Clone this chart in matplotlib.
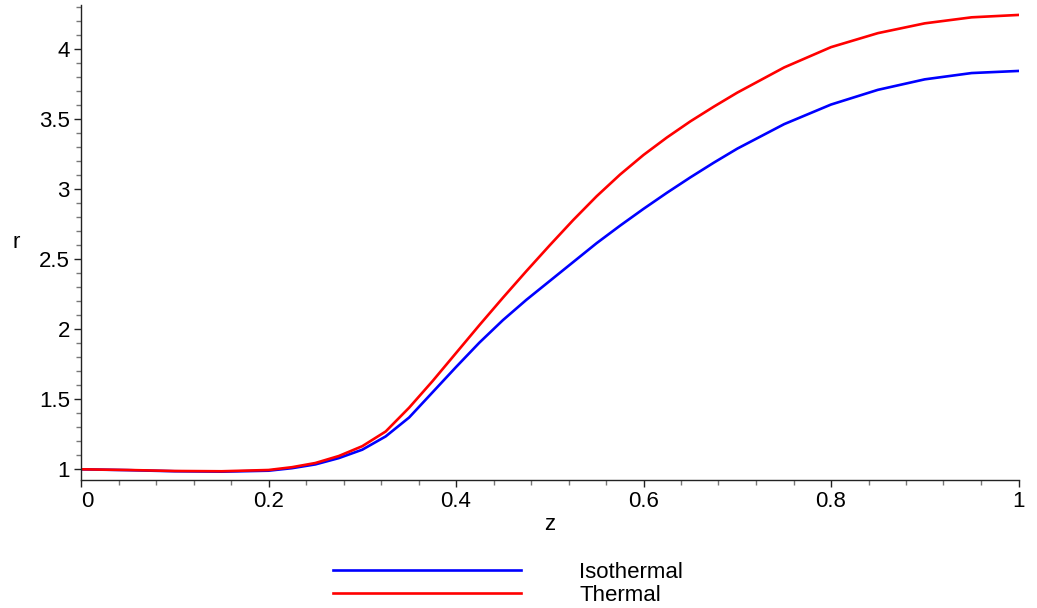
import numpy as np
import matplotlib.pyplot as plt
from matplotlib.ticker import MultipleLocator

plt.rcParams['font.family'] = ['Liberation Sans', 'DejaVu Sans']

# values
z = [0.0, 0.05, 0.1, 0.15, 0.2, 0.225, 0.25, 0.275, 0.3, 0.325, 0.35, 0.375,
     0.4, 0.425, 0.45, 0.475, 0.5, 0.525, 0.55, 0.575, 0.6, 0.625, 0.65,
     0.675, 0.7, 0.75, 0.8, 0.85, 0.9, 0.95, 1.0]
r_isothermal = [1.0, 0.994, 0.986, 0.983, 0.99, 1.008, 1.035, 1.08, 1.14, 1.235,
                1.37, 1.55, 1.73, 1.905, 2.065, 2.21, 2.345, 2.48, 2.615, 2.74,
                2.86, 2.975, 3.085, 3.19, 3.29, 3.465, 3.605, 3.71, 3.785, 3.83,
                3.845]
r_thermal = [1.0, 0.995, 0.988, 0.986, 0.995, 1.015, 1.045, 1.095, 1.165, 1.27,
             1.44, 1.63, 1.83, 2.03, 2.225, 2.415, 2.60, 2.78, 2.95, 3.105,
             3.245, 3.37, 3.485, 3.59, 3.69, 3.87, 4.015, 4.115, 4.185, 4.228,
             4.245]
labels = ["Isothermal", "Thermal"]
xticks = [0, 0.2, 0.4, 0.6, 0.8, 1]
yticks = [1, 1.5, 2, 2.5, 3, 3.5, 4]

fig = plt.figure(figsize=(10.37, 6.08), dpi=100)
ax = fig.add_axes([81 / 1037, 1 - 480 / 608, 937.5 / 1037, 475 / 608])

ax.plot(z, r_isothermal, color='#0000ff', lw=1.9, label=labels[0])
ax.plot(z, r_thermal, color='#ff0000', lw=1.9, label=labels[1])

ax.set_xlim(0, 1)
ax.set_ylim(0.9236, 4.316)

for side in ['top', 'right']:
    ax.spines[side].set_visible(False)
for side in ['left', 'bottom']:
    ax.spines[side].set_linewidth(1.0)
    ax.spines[side].set_color('#222222')

ax.set_xticks(xticks, [f"{v:g}" for v in xticks])
ax.set_yticks(yticks, [f"{v:g}" for v in yticks])
ax.xaxis.set_minor_locator(MultipleLocator(0.04))
ax.yaxis.set_minor_locator(MultipleLocator(0.1))

ax.tick_params(which='major', direction='out', length=5, width=1, color='#222222',
               labelsize=16, pad=3)
ax.tick_params(which='minor', direction='out', length=3.5, width=1, color='#777777')
ax.tick_params(axis='y', which='major', pad=3)

ax.get_xticklabels()[0].set_horizontalalignment('left')

ax.set_xlabel('z', fontsize=16)
ax.xaxis.set_label_coords(0.5, -0.0947)
ax.xaxis.label.set_va('center')
ax.set_ylabel('r', fontsize=16, rotation=0)
ax.yaxis.set_label_coords(-0.0693, 0.501)
ax.yaxis.label.set_va('center')

ax.legend(loc='upper left', bbox_to_anchor=(333 / 1037, 1 - 562 / 608),
          bbox_transform=fig.transFigure, frameon=False, fontsize=16,
          handlelength=8.47, handletextpad=2.62, labelspacing=0.07,
          borderpad=0, borderaxespad=0)

fig.savefig('out.png', dpi=100)
